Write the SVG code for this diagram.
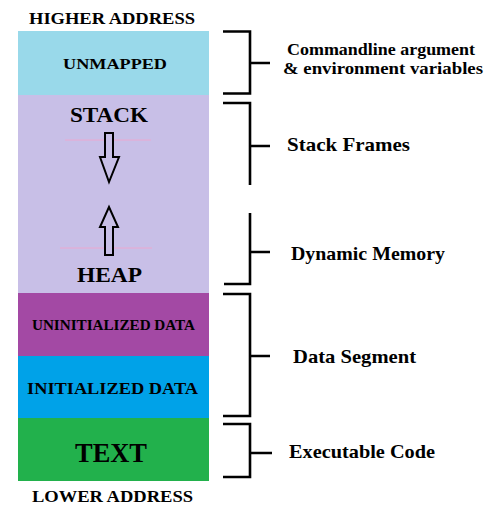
<svg xmlns="http://www.w3.org/2000/svg" width="488" height="514" viewBox="0 0 488 514">
  <style>
    text { font-family: "Liberation Serif", "Times New Roman", serif; font-weight: bold; fill: #000; }
    .lbl { font-size: 17px; }
    .big { font-size: 19px; }
    .brace { fill: none; stroke: #000; stroke-width: 2.6; }
    .arrow { fill: #C8BFE7; stroke: #000; stroke-width: 2; stroke-linejoin: miter; }
    .guide { stroke: #EBA8D0; stroke-width: 1; }
  </style>

  <!-- address labels -->
  <text x="29" y="24" font-size="16" textLength="166" lengthAdjust="spacingAndGlyphs">HIGHER ADDRESS</text>
  <text x="32" y="502" font-size="16" textLength="161" lengthAdjust="spacingAndGlyphs">LOWER ADDRESS</text>

  <!-- memory segments -->
  <g id="unmapped">
    <rect x="18" y="31" width="191" height="64" fill="#99D9EA"/>
    <text x="63" y="69" font-size="15" textLength="104" lengthAdjust="spacingAndGlyphs">UNMAPPED</text>
  </g>
  <g id="stack-heap">
    <rect x="18" y="95" width="191" height="198" fill="#C8BFE7"/>
    <line class="guide" x1="65" y1="140" x2="151" y2="140"/>
    <line class="guide" x1="60" y1="248" x2="152" y2="248"/>
    <text x="70" y="122" font-size="22" textLength="78" lengthAdjust="spacingAndGlyphs">STACK</text>
    <text x="77" y="282" font-size="22" textLength="65" lengthAdjust="spacingAndGlyphs">HEAP</text>
    <!-- stack grows down, heap grows up -->
    <path class="arrow" d="M105,133 H113 V157 H119 L109,182 L100,157 H105 Z"/>
    <path class="arrow" d="M105,255 H113 V227 H118 L109,207 L100,227 H105 Z"/>
  </g>
  <g id="uninitialized-data">
    <rect x="18" y="293" width="191" height="63" fill="#A349A4"/>
    <text x="32" y="330" font-size="15" textLength="163" lengthAdjust="spacingAndGlyphs">UNINITIALIZED DATA</text>
  </g>
  <g id="initialized-data">
    <rect x="18" y="356" width="191" height="62" fill="#00A2E8"/>
    <text x="27" y="394" font-size="17" textLength="171" lengthAdjust="spacingAndGlyphs">INITIALIZED DATA</text>
  </g>
  <g id="text-segment">
    <rect x="18" y="418" width="191" height="63" fill="#22B14C"/>
    <text x="75" y="462" font-size="28" textLength="72" lengthAdjust="spacingAndGlyphs">TEXT</text>
  </g>

  <!-- brackets -->
  <g id="brackets">
    <path class="brace" d="M223,31.5 H250 V93.5 H223 M250,63 H270"/>
    <path class="brace" d="M223,103 H250 V185 M250,146 H270"/>
    <path class="brace" d="M250,213 V284 H224 M250,252 H270"/>
    <path class="brace" d="M223,294 H250 V416 H223 M250,356 H270"/>
    <path class="brace" d="M223,424 H250 V477 H223 M250,453 H272"/>
  </g>

  <!-- bracket labels -->
  <g id="labels">
    <text class="lbl" x="287" y="55" textLength="188" lengthAdjust="spacingAndGlyphs">Commandline argument</text>
    <text class="lbl" x="283" y="74" textLength="200" lengthAdjust="spacingAndGlyphs">&amp; environment variables</text>
    <text class="big" x="287" y="151" textLength="123" lengthAdjust="spacingAndGlyphs">Stack  Frames</text>
    <text class="big" x="291" y="260" textLength="154" lengthAdjust="spacingAndGlyphs">Dynamic Memory</text>
    <text class="big" x="293" y="363" textLength="123" lengthAdjust="spacingAndGlyphs">Data Segment</text>
    <text class="big" x="289" y="458" textLength="146" lengthAdjust="spacingAndGlyphs">Executable Code</text>
  </g>
</svg>
